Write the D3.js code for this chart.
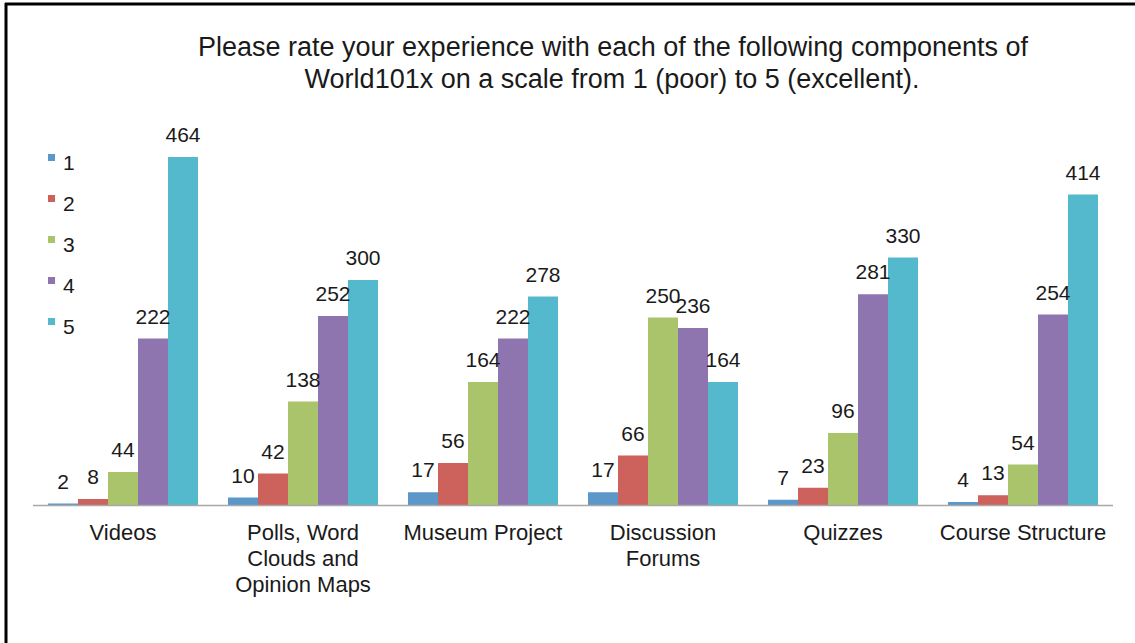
<!DOCTYPE html>
<html>
<head>
<meta charset="utf-8">
<script src="https://cdn.jsdelivr.net/npm/d3@7"></script>
<style>
  body { margin: 0; background: #fff; }
  text { font-family: "Liberation Sans", Arial, Helvetica, sans-serif; fill: #1a1a1a; }
</style>
</head>
<body>
<svg id="chart" width="1135" height="643"></svg>
<script>
// data ----------------------------------------
var categories = ["Videos", "Polls, Word Clouds and Opinion Maps", "Museum Project", "Discussion Forums", "Quizzes", "Course Structure"];
var categoryLines = [["Videos"], ["Polls, Word", "Clouds and", "Opinion Maps"], ["Museum Project"], ["Discussion", "Forums"], ["Quizzes"], ["Course Structure"]];
var ratings = ["1", "2", "3", "4", "5"];
var rating1 = [2, 10, 17, 17, 7, 4];
var rating2 = [8, 42, 56, 66, 23, 13];
var rating3 = [44, 138, 164, 250, 96, 54];
var rating4 = [222, 252, 222, 236, 281, 254];
var rating5 = [464, 300, 278, 164, 330, 414];
var series = [rating1, rating2, rating3, rating4, rating5];

var colors = ["#5b97c8", "#cc625b", "#a9c46b", "#8f75b0", "#55b9cd"];

var svg = d3.select("#chart");

// frame (left + top edge) ----------------------------------------
svg.append("line").attr("x1", 6).attr("y1", 3).attr("x2", 6).attr("y2", 643)
  .attr("stroke", "#000").attr("stroke-width", 3);
svg.append("line").attr("x1", 5).attr("y1", 4).attr("x2", 1135).attr("y2", 4)
  .attr("stroke", "#000").attr("stroke-width", 3);

// scales ----------------------------------------
var x0 = d3.scaleBand()
  .domain(categories)
  .range([33, 1113])
  .paddingInner(1 / 6)
  .paddingOuter(1 / 12);

var x1 = d3.scaleBand()
  .domain(ratings)
  .range([0, x0.bandwidth()]);

var y = d3.scaleLinear()
  .domain([0, 500])
  .range([505, 130]);

var color = d3.scaleOrdinal().domain(ratings).range(colors);

// flatten into rows
var rows = [];
categories.forEach(function(c, i) {
  ratings.forEach(function(r, j) {
    rows.push({ cat: c, rating: r, value: series[j][i] });
  });
});

// bars ----------------------------------------
svg.append("g").selectAll("rect")
  .data(rows)
  .enter().append("rect")
  .attr("x", function(d) { return x0(d.cat) + x1(d.rating); })
  .attr("y", function(d) { return y(d.value); })
  .attr("width", x1.bandwidth())
  .attr("height", function(d) { return y(0) - y(d.value); })
  .attr("fill", function(d) { return color(d.rating); });

// value labels
svg.append("g").selectAll("text")
  .data(rows)
  .enter().append("text")
  .attr("x", function(d) { return x0(d.cat) + x1(d.rating) + x1.bandwidth() / 2; })
  .attr("y", function(d) { return y(d.value) - 15; })
  .attr("text-anchor", "middle")
  .style("font-size", "21px")
  .text(function(d) { return d.value; });

// x axis ----------------------------------------
svg.append("line")
  .attr("x1", x0.range()[0]).attr("x2", x0.range()[1])
  .attr("y1", y(0) + 0.5).attr("y2", y(0) + 0.5)
  .attr("stroke", "#a8a8a8").attr("stroke-width", 1.5);

var catLabels = svg.append("g").selectAll("text")
  .data(categories)
  .enter().append("text")
  .attr("text-anchor", "middle")
  .style("font-size", "22px")
  .attr("transform", function(d) { return "translate(" + (x0(d) + x0.bandwidth() / 2) + ",540)"; });

catLabels.each(function(d, i) {
  var t = d3.select(this);
  categoryLines[i].forEach(function(line, k) {
    t.append("tspan").attr("x", 0).attr("y", k * 26).text(line);
  });
});

// legend ----------------------------------------
var legend = svg.append("g").selectAll("g")
  .data(ratings)
  .enter().append("g")
  .attr("transform", function(d, i) { return "translate(48," + (154 + i * 41) + ")"; });

legend.append("rect")
  .attr("width", 7).attr("height", 7)
  .attr("fill", function(d) { return color(d); });

legend.append("text")
  .attr("x", 15).attr("y", 16)
  .style("font-size", "21px")
  .text(function(d) { return d; });

// title ----------------------------------------
var title = svg.append("text")
  .attr("text-anchor", "middle")
  .style("font-size", "27px");
title.append("tspan").attr("x", 613).attr("y", 56)
  .text("Please rate your experience with each of the following components of");
title.append("tspan").attr("x", 612).attr("y", 88)
  .text("World101x on a scale from 1 (poor) to 5 (excellent).");
</script>
</body>
</html>
